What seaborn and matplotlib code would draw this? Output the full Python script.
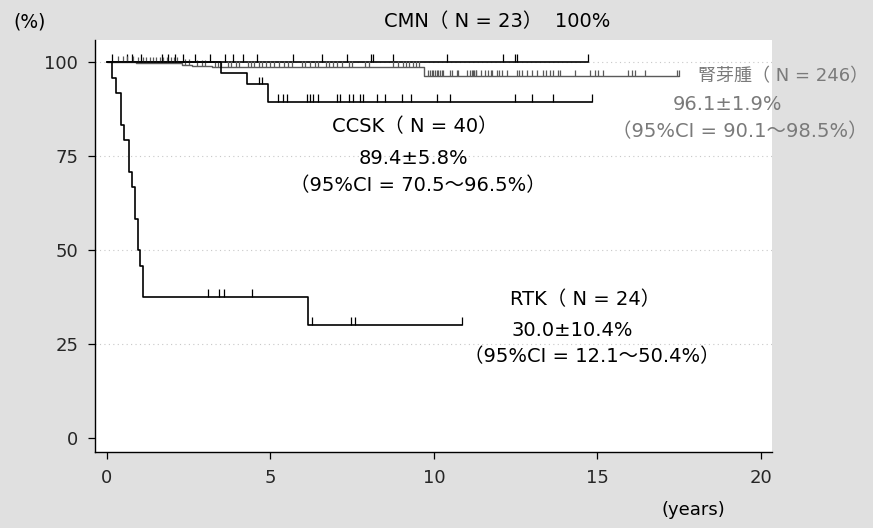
import numpy as np
import pandas as pd
import matplotlib
matplotlib.use("Agg")
import matplotlib.pyplot as plt
import seaborn as sns

# courbes de survie (temps en années, survie en %)
cmn_times = [0, 14.72]
cmn_surv = [100, 100]
cmn_censor = [0.14, 0.60, 0.75, 1.03, 1.67, 1.88, 2.08, 2.33, 2.69, 3.15, 3.61, 3.86,
              4.17, 4.58, 5.70, 6.57, 7.33, 8.09, 8.14, 8.76, 10.39, 12.12, 12.48,
              12.55, 14.72]

nephro_times = [0, 0.9, 2.3, 2.6, 3.2, 9.7, 17.5]
nephro_surv = [100, 99.6, 99.2, 98.8, 98.5, 96.1, 96.1]
nephro_censor = [0.35, 0.5, 0.62, 0.8, 0.95, 1.1, 1.2, 1.3, 1.4, 1.5, 1.62, 1.72, 1.85,
                 1.95, 2.05, 2.15, 2.4, 2.5, 2.75, 2.9, 3.0, 3.3, 3.4, 3.5, 3.7, 3.8,
                 3.95, 4.05, 4.3, 4.4, 4.5, 4.65, 4.75, 4.85, 5.0, 5.1, 5.25, 5.4, 5.55,
                 5.65, 5.95, 6.05, 6.2, 6.35, 6.45, 6.7, 6.8, 6.9, 7.05, 7.2, 7.4, 7.5,
                 7.9, 8.0, 8.75, 8.9, 9.05, 9.15, 9.25, 9.35, 9.45, 9.55,
                 9.83, 9.88, 9.93, 9.98, 10.03, 10.08, 10.13, 10.19, 10.24, 10.29, 10.49,
                 10.54, 10.70, 10.75, 11.0, 11.1, 11.2, 11.3, 11.15, 11.22, 11.30, 11.45,
                 11.56, 11.66, 11.73, 11.79, 11.92, 12.00, 12.07, 12.23, 12.53, 12.61,
                 12.68, 12.84, 12.99, 13.14, 13.34, 13.42, 13.55, 13.63, 13.80, 13.87,
                 14.31, 14.77, 14.92, 15.02, 15.18, 15.94, 16.05, 16.15, 16.45, 17.42, 17.50]

ccsk_times = [0, 3.5, 4.27, 4.91, 14.82]
ccsk_surv = [100, 97.1, 94.0, 89.4, 89.4]
ccsk_censor = [4.66, 4.73, 5.24, 5.39, 5.50, 6.11, 6.21, 6.31, 6.46, 7.02, 7.12, 7.41,
               7.51, 7.74, 7.82, 8.25, 8.50, 9.01, 9.30, 10.08, 10.49, 12.48, 12.99,
               13.65, 14.82]

rtk_times = [0, 0.14, 0.27, 0.42, 0.52, 0.67, 0.75, 0.86, 0.94, 1.01, 1.11, 6.15, 10.85]
rtk_surv = [100, 95.8, 91.7, 83.3, 79.2, 70.8, 66.7, 58.3, 50.0, 45.8, 37.5, 30.0, 30.0]
rtk_censor = [3.10, 3.43, 3.58, 4.42, 6.28, 7.45, 7.60, 10.85]

x_ticks = [0, 5, 10, 15, 20]
y_ticks = [0, 25, 50, 75, 100]

W, H = 873, 528

sns.set_style("white")
plt.rcParams['font.family'] = ['DejaVu Sans', 'Noto Sans CJK JP']

fig = plt.figure(figsize=(W / 100, H / 100), dpi=100, facecolor='#e0e0e0')
ax = fig.add_axes([95 / W, 1 - 452 / H, (772 - 95) / W, (452 - 40) / H])
ax.set_facecolor('white')


def surv_at(times, surv, t):
    i = np.searchsorted(times, t, side='right') - 1
    return surv[i]


courbes = [
    (cmn_times, cmn_surv, cmn_censor, 'black', 1.2, 2.1),
    (nephro_times, nephro_surv, nephro_censor, '#5a5a5a', 1.0, 1.6),
    (ccsk_times, ccsk_surv, ccsk_censor, 'black', 1.2, 2.0),
    (rtk_times, rtk_surv, rtk_censor, 'black', 1.2, 2.1),
]

for times, surv, censor, col, lw, h in courbes:
    df = pd.DataFrame({'t': times, 's': surv})
    sns.lineplot(data=df, x='t', y='s', drawstyle='steps-post', color=col,
                 linewidth=lw, ax=ax, estimator=None, sort=False)
    ys = np.array([surv_at(np.array(times), np.array(surv), t) for t in censor])
    ax.vlines(censor, ys, ys + h, color=col, linewidth=0.9)

# grille pointillée
for y in [25, 50, 75, 100]:
    ax.axhline(y, color='#c8c8c8', linestyle=(0, (1, 3)), linewidth=0.8, zorder=0)

ax.set_xlim(-0.367, 20.34)
ax.set_ylim(-3.72, 105.8)
ax.set_xticks(x_ticks)
ax.set_yticks(y_ticks)
ax.set_xlabel('')
ax.set_ylabel('')
sns.despine(ax=ax)
for s in ['left', 'bottom']:
    ax.spines[s].set_color('black')
    ax.spines[s].set_linewidth(1.0)
ax.tick_params(axis='both', direction='out', length=5, width=0.9, color='black',
               labelsize=13, bottom=True, left=True)
ax.tick_params(axis='y', pad=7)
ax.tick_params(axis='x', pad=7)

# textes
def ftext(x, y, s, color='black', ha='center', size=14):
    fig.text(x / W, 1 - y / H, s, color=color, ha=ha, va='center', fontsize=size)

gris = '#7a7a7a'
ftext(30, 22, '(%)', size=13.5)
ftext(497, 22, 'CMN（ N = 23）  100%')
ftext(698, 76, '腎芽腫（ N = 246）', color=gris, ha='left', size=13)
ftext(727, 104, '96.1±1.9%', color=gris)
ftext(740, 132, '（95%CI = 90.1～98.5%）', color=gris)
ftext(415, 127, 'CCSK（ N = 40）')
ftext(413, 158, '89.4±5.8%')
ftext(418, 186, '（95%CI = 70.5～96.5%）')
ftext(585, 300, 'RTK（ N = 24）')
ftext(572, 330, '30.0±10.4%')
ftext(592, 357, '（95%CI = 12.1～50.4%）')
ftext(693, 510, '(years)', size=13)

fig.savefig('out.png', dpi=100, facecolor=fig.get_facecolor())
